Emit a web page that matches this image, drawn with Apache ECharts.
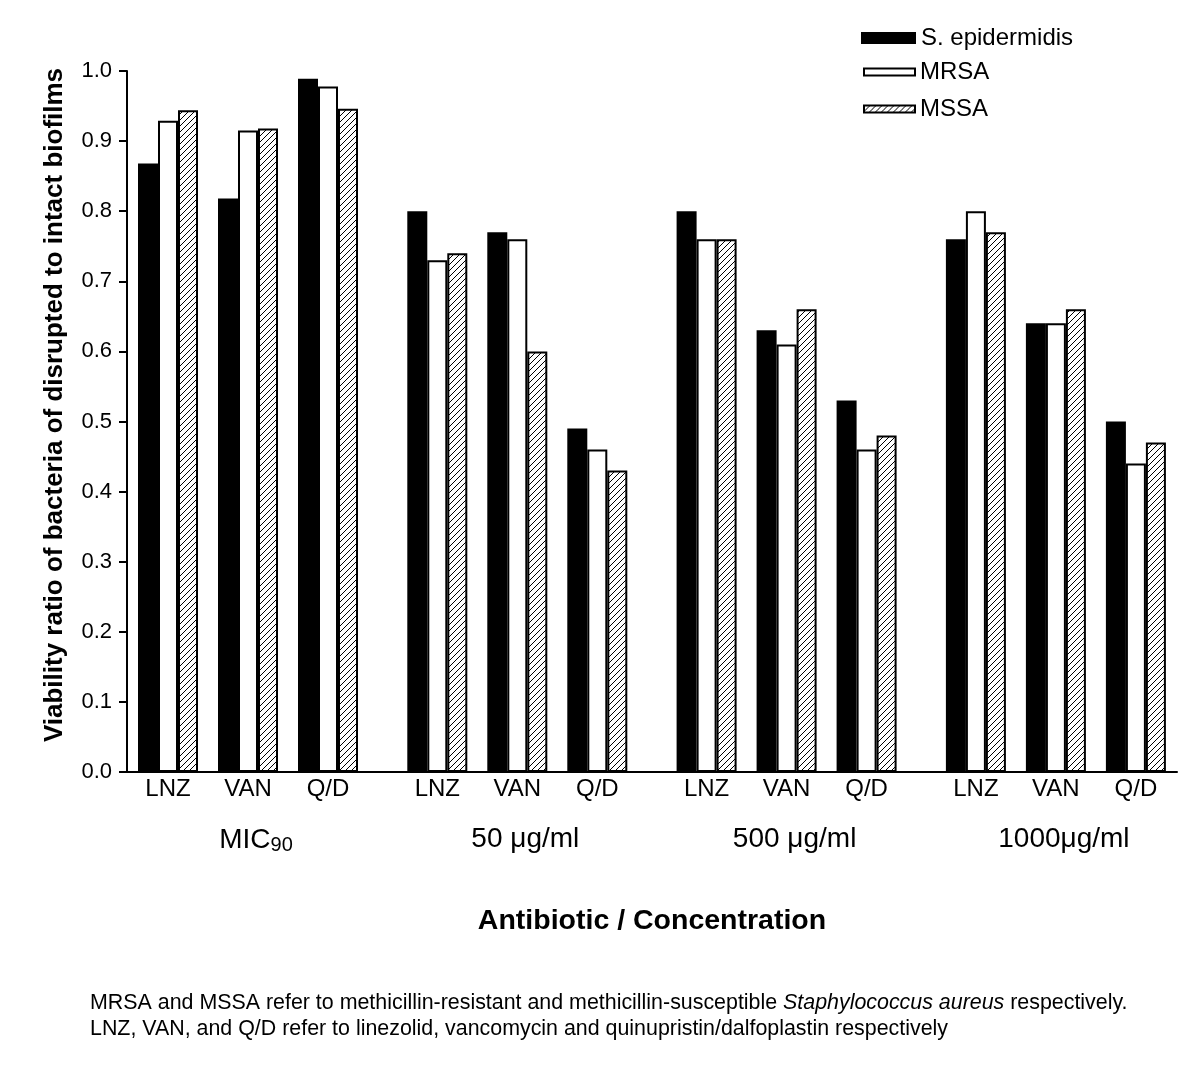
<!DOCTYPE html>
<html>
<head>
<meta charset="utf-8">
<script src="https://cdn.jsdelivr.net/npm/echarts@6/dist/echarts.min.js"></script>
<style>
html,body{margin:0;padding:0;background:#fff;}
#chart{width:1196px;height:1067px;}
</style>
</head>
<body>
<div id="chart"></div>
<script>
// ---- data ----
const categories = ['LNZ', 'VAN', 'Q/D'];
const groupLabels = ['{m|MIC}{s|90}', '50 μg/ml', '500 μg/ml', '1000μg/ml'];
const seriesNames = ['S. epidermidis', 'MRSA', 'MSSA'];
// 12 values each: MIC90 (LNZ,VAN,Q/D), 50 μg/ml (...), 500 μg/ml (...), 1000μg/ml (...)
const sEpidermidis = [0.868, 0.818, 0.989, 0.80, 0.77, 0.49, 0.80, 0.63, 0.53, 0.76, 0.64, 0.50];
const mrsa         = [0.929, 0.915, 0.978, 0.73, 0.76, 0.46, 0.76, 0.61, 0.46, 0.80, 0.64, 0.44];
const mssa         = [0.944, 0.918, 0.946, 0.74, 0.60, 0.43, 0.76, 0.66, 0.48, 0.77, 0.66, 0.47];
const yMin = 0, yMax = 1, yInterval = 0.1;
const yTitle = 'Viability ratio of bacteria of disrupted to intact biofilms';
const xTitle = 'Antibiotic / Concentration';
const footnote = 'MRSA and MSSA refer to methicillin-resistant and methicillin-susceptible {i|Staphylococcus aureus} respectively.\nLNZ, VAN, and Q/D refer to linezolid, vancomycin and quinupristin/dalfoplastin respectively';

// ---- layout ----
const FONT = '"Liberation Sans", Arial, Helvetica, sans-serif';
const GRID_TOP = 71, GRID_BOTTOM = 295;
const AXIS_LEFT = 127, AXIS_RIGHT = 19;
const GROUP_LEFT0 = 128, GROUP_PITCH = 269.3, GROUP_WIDTH = 240;

const hatch = (function () {
  const c = document.createElement('canvas');
  c.width = 6; c.height = 6;
  const x = c.getContext('2d');
  x.fillStyle = '#fff'; x.fillRect(0, 0, 6, 6);
  x.strokeStyle = '#000'; x.lineWidth = 1;
  x.beginPath();
  x.moveTo(0, 6); x.lineTo(6, 0);
  x.moveTo(-1, 1); x.lineTo(1, -1);
  x.moveTo(5, 7); x.lineTo(7, 5);
  x.stroke();
  return c;
})();

const seriesValues = [sEpidermidis, mrsa, mssa];
const styles = [
  { color: '#000', borderColor: '#000', borderWidth: 0 },
  { color: '#fff', borderColor: '#000', borderWidth: 2 },
  { color: { image: hatch, repeat: 'repeat' }, borderColor: '#000', borderWidth: 2 }
];

const grids = [{ left: AXIS_LEFT, right: AXIS_RIGHT, top: GRID_TOP, bottom: GRID_BOTTOM }];
const xAxes = [{
  gridIndex: 0, type: 'value', min: 0, max: 1,
  axisLine: { show: true, onZero: false, lineStyle: { color: '#000', width: 2 } },
  axisTick: { show: false }, axisLabel: { show: false }, splitLine: { show: false }
}];
const yAxes = [{
  gridIndex: 0, type: 'value', min: yMin, max: yMax, interval: yInterval,
  axisLine: { show: true, lineStyle: { color: '#000', width: 2 } },
  axisTick: { show: true, length: 8, lineStyle: { color: '#000', width: 2 } },
  axisLabel: { fontSize: 22, color: '#000', margin: 15, fontFamily: FONT, formatter: v => v.toFixed(1) },
  splitLine: { show: false }
}];
const series = [];

groupLabels.forEach((label, g) => {
  grids.push({ left: GROUP_LEFT0 + GROUP_PITCH * g, width: GROUP_WIDTH, top: GRID_TOP, bottom: GRID_BOTTOM });
  xAxes.push({
    gridIndex: g + 1, type: 'category', data: categories,
    axisLine: { show: false }, axisTick: { show: false },
    axisLabel: { fontSize: 24, color: '#000', margin: 5, fontFamily: FONT, interval: 0 },
    name: label, nameLocation: 'middle', nameGap: 53,
    nameTextStyle: {
      fontSize: 28, color: '#000', fontFamily: FONT, padding: [0, 0, 0, 16],
      rich: {
        m: { fontSize: 28, color: '#000', fontFamily: FONT, lineHeight: 30, verticalAlign: 'middle' },
        s: { fontSize: 20, color: '#000', fontFamily: FONT, lineHeight: 14, verticalAlign: 'bottom' }
      }
    }
  });
  yAxes.push({ gridIndex: g + 1, type: 'value', min: yMin, max: yMax, show: false });
  seriesNames.forEach((name, s) => {
    series.push({
      type: 'bar', name: name,
      xAxisIndex: g + 1, yAxisIndex: g + 1,
      barWidth: 20, barGap: '0%',
      itemStyle: styles[s],
      data: seriesValues[s].slice(g * 3, g * 3 + 3)
    });
  });
});

const legendLeft = [861, 863, 863], legendTop = [26, 60, 97];
const legendW = [55, 51, 51], legendH = [12, 7, 7];
const legends = seriesNames.map((n, i) => ({
  data: [n], orient: 'vertical', left: legendLeft[i], top: legendTop[i],
  itemWidth: legendW[i], itemHeight: legendH[i], padding: 0, icon: 'rect',
  selectedMode: false,
  textStyle: { fontSize: 24, color: '#000', lineHeight: 24, fontFamily: FONT }
}));

const chart = echarts.init(document.getElementById('chart'), null, { renderer: 'canvas' });
chart.setOption({
  backgroundColor: '#fff',
  animation: false,
  grid: grids,
  xAxis: xAxes,
  yAxis: yAxes,
  legend: legends,
  series: series,
  graphic: [
    {
      type: 'text', x: 55, y: 405, rotation: Math.PI / 2,
      style: { text: yTitle, align: 'center', verticalAlign: 'middle', fontSize: 26, fontWeight: 'bold', fontFamily: FONT, fill: '#000' }
    },
    {
      type: 'text', x: 652, y: 921,
      style: { text: xTitle, align: 'center', verticalAlign: 'middle', fontSize: 28.5, fontWeight: 'bold', fontFamily: FONT, fill: '#000' }
    },
    {
      type: 'text', x: 90, y: 990,
      style: {
        text: footnote, align: 'left', verticalAlign: 'top', fontSize: 21.4, lineHeight: 26, fontFamily: FONT, fill: '#000',
        rich: { i: { fontSize: 21.4, fontStyle: 'italic', lineHeight: 26, fontFamily: FONT, fill: '#000' } }
      }
    }
  ]
});
</script>
</body>
</html>
